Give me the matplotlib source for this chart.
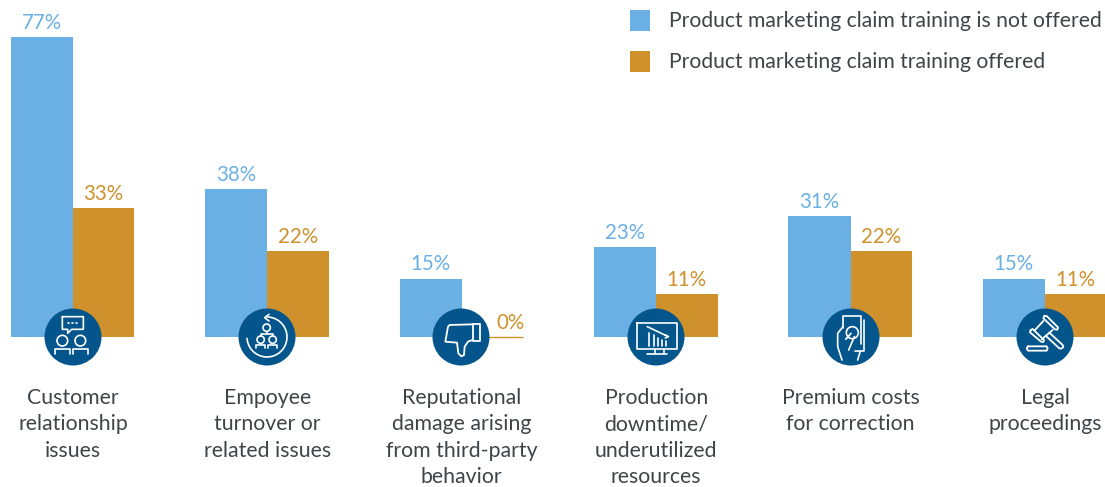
#%%
import numpy as np
import matplotlib
matplotlib.use('Agg')
import matplotlib.pyplot as plt
from matplotlib.patches import Circle, Rectangle

plt.rcParams['font.family'] = ['Lato', 'DejaVu Sans']

#%% data
categories = ['Customer\nrelationship\nissues', 'Empoyee\nturnover or\nrelated issues',
              'Reputational\ndamage arising\nfrom third-party\nbehavior',
              'Production\ndowntime/\nunderutilized\nresources',
              'Premium costs\nfor correction', 'Legal\nproceedings']
not_offered = [77, 38, 15, 23, 31, 15]
offered = [33, 22, 0, 11, 22, 11]
legend_labels = ['Product marketing claim training is not offered',
                 'Product marketing claim training offered']

blue = '#6ab0e4'
gold = '#ce912b'
navy = '#03558c'
text_col = '#3f4448'
W, H = 1105, 487

#%%
fig = plt.figure(figsize=(W/100, H/100), dpi=100)
ax = fig.add_axes([0, 0, 1, 1])
x = np.arange(len(categories))
wb = 0.32
wg = 0.316
ax.bar(x-wb/2, not_offered, wb, color=blue, linewidth=0)
ax.bar(x+wg/2, offered, wg, color=gold, edgecolor=gold,
       linewidth=[1.0 if v == 0 else 0 for v in offered])
ax.set_xlim(-73/194.4, (W-73)/194.4)
ax.set_ylim(-150/3.896, 337/3.896)
ax.axis('off')

for i in range(len(x)):
    ax.annotate(f'{not_offered[i]}%', (x[i]-wb/2, not_offered[i]), xytext=(0, 3), textcoords='offset points',
                ha='center', va='bottom', color=blue, fontsize=14.8)
    # the 0% label sits past the circle, not over the bar centre
    shift = 18*0.72 if offered[i] == 0 else 0
    ax.annotate(f'{offered[i]}%', (x[i]+wg/2, offered[i]), xytext=(shift, 3), textcoords='offset points',
                ha='center', va='bottom', color=gold, fontsize=14.8)
    for j, line in enumerate(categories[i].split('\n')):
        ax.annotate(line, (x[i], 0), xytext=(0, -(60.5+26.6*j)*0.72), textcoords='offset points',
                    ha='center', va='center', color=text_col, fontsize=15.3)

# overlay in pixels for the legend and the icons
px = fig.add_axes([0, 0, 1, 1], facecolor='none')
px.set_xlim(0, W)
px.set_ylim(H, 0)
px.axis('off')

for k, (col, lab) in enumerate(zip([blue, gold], legend_labels)):
    px.add_patch(Rectangle((630, 10+41*k), 20, 20.5, color=col, lw=0))
    px.text(669, 21+41*k, lab, color=text_col, fontsize=15.2, va='center', ha='left')

#%% icons
def pl(cx, cy, pts, lw=1.2):
    pts = np.array(pts, dtype=float)/3
    px.plot(cx+pts[:, 0], cy+pts[:, 1], color='white', lw=lw, solid_capstyle='round', solid_joinstyle='round')

def circ(cx, cy, a, b, r, lw=1.2):
    px.add_patch(Circle((cx+a/3, cy+b/3), r/3, fill=False, ec='white', lw=lw))

centers = [73, 267, 461, 656, 851, 1045]
for c in centers:
    px.add_patch(Circle((c, 337), 28.5, color=navy, lw=0))

# people talking
c = centers[0]
pl(c, 337, [(-32,-61),(31,-61),(31,-23),(-4,-23),(-16,-11),(-16,-23),(-32,-23),(-32,-61)])
for a in (-13, -1, 11):
    pl(c, 337, [(a-1,-42),(a+1,-42)])
circ(c, 337, -32, 11, 16)
circ(c, 337, 22, 11, 16)
pl(c, 337, [(-53,50),(-53,36),(-9,36),(-9,50)])
pl(c, 337, [(1,50),(1,36),(45,36),(45,50)])

# turnover
c = centers[1]
t = np.radians(np.arange(-88, 181, 6))
pl(c, 337, np.c_[60*np.cos(t), 60*np.sin(t)])
pl(c, 337, [(6,-68),(-7,-58),(6,-48)])
circ(c, 337, -1, -28, 11)
circ(c, 337, -19, 8, 11)
circ(c, 337, 17, 8, 11)
pl(c, 337, [(-1,-16),(-1,-9)])
pl(c, 337, [(-19,-3),(-19,-9),(17,-9),(17,-3)])
pl(c, 337, [(-33,33),(-33,25),(-6,25),(-6,33)])
pl(c, 337, [(4,33),(4,25),(31,25),(31,33)])

# thumb down
c = centers[2]
pl(c, 337, [(33,-38),(-34,-36),(-39,-31),(-47,14),(-12,17),(-8,49),(1,58),(9,54),(11,29),(21,14),(34,9)], lw=1.3)
pl(c, 337, [(36,-39),(57,-39),(57,12),(36,12),(36,-39)], lw=1.3)

# monitor
c = centers[3]
pl(c, 337, [(-56,-43),(62,-43),(62,37),(-56,37),(-56,-43)])
pl(c, 337, [(-26,-31),(37,-1)])
pl(c, 337, [(26,-7),(37,-1),(28,3)])
for a, b in zip([-21,-7,7,19,31], [-11,-6,2,9,12]):
    pl(c, 337, [(a,b),(a,27)])
pl(c, 337, [(-3,37),(-3,51)])
pl(c, 337, [(25,37),(25,51)])
pl(c, 337, [(-28,51),(32,51)])

# hand with card
c = centers[4]
pl(c, 337, [(-24,-26),(-24,-63),(30,-63),(30,20)])
pl(c, 337, [(40,-50),(40,42),(12,42)])
circ(c, 337, 4, -13, 18)
pl(c, 337, [(-24,-31),(-40,-11),(-40,29),(-27,69)])
pl(c, 337, [(-16,7),(0,-11)])
pl(c, 337, [(10,-1),(-7,39)])
pl(c, 337, [(28,42),(20,69)])

# gavel
c = centers[5]
pl(c, 337, [(-2,-63),(5,-63),(39,-29),(37,-22),(30,-23),(-5,-56),(-2,-63)], lw=1.3)
pl(c, 337, [(-43,-21),(-37,-24),(-3,9),(-5,15),(-12,14),(-45,-14),(-43,-21)], lw=1.3)
pl(c, 337, [(-5,-48),(-30,-21)], lw=1.3)
pl(c, 337, [(23,-21),(-10,7)], lw=1.3)
pl(c, 337, [(13,-13),(53,24),(55,30),(49,35),(43,34),(3,-3)], lw=1.3)
pl(c, 337, [(-51,28),(5,28),(8,34),(5,41),(-51,41),(-55,34),(-51,28)], lw=1.3)

fig.savefig('out.png', dpi=100)
